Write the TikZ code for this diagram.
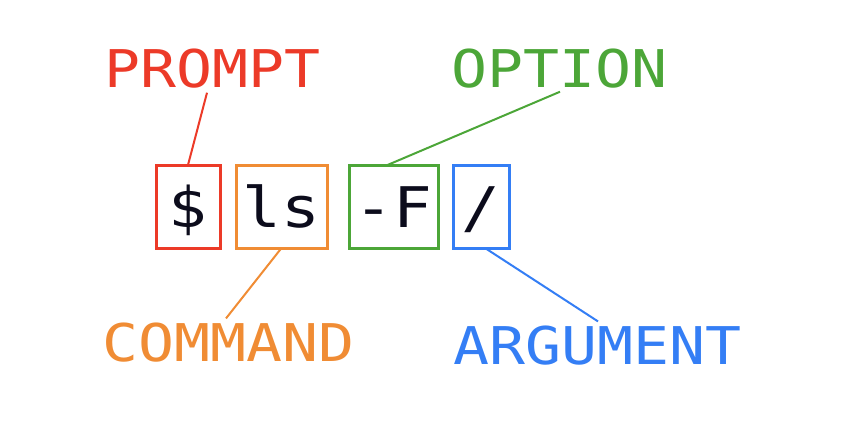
\documentclass[tikz,border=0pt]{standalone}
\usepackage{fontspec}
\usetikzlibrary{positioning}
\newfontfamily\termfont[FakeStretch=1.15]{DejaVu Sans Mono}
\definecolor{promptred}{RGB}{236,58,40}
\definecolor{cmdorange}{RGB}{240,140,52}
\definecolor{optgreen}{RGB}{76,166,56}
\definecolor{argblue}{RGB}{52,126,245}
\definecolor{termink}{RGB}{12,12,28}
\tikzset{
  x=1pt, y=-1pt,
  box/.style={
    draw, line width=3pt, minimum height=83pt, inner sep=0pt, outer sep=0pt,
    text height=42pt, text depth=0pt, text=termink,
    font=\termfont\fontsize{56}{56}\selectfont
  },
  tag/.style={
    anchor=base, inner sep=3pt,
    font=\termfont\fontsize{52}{52}\selectfont
  }
}

\begin{document}
\begin{tikzpicture}[line width=2pt]
    \useasboundingbox (0,0) rectangle (864,428);

    \node[box, promptred, minimum width=64pt] (dollar) at (188,206.5) {\textcolor{termink}{\$}};
    \node[box, cmdorange, minimum width=91pt, right = 16pt of dollar] (ls) {\textcolor{termink}{ls}};
    \node[box, optgreen, minimum width=89pt, right = 22pt of ls] (flag) {\textcolor{termink}{-F}};
    \node[box, argblue, minimum width=56pt, right = 15pt of flag] (slash) {\textcolor{termink}{/}};

    \node[tag, promptred] (prompt) at (213,88) {PROMPT};
    \node[tag, optgreen] (option) at (560,87) {OPTION};
    \node[tag, cmdorange] (command) at (229,361) {COMMAND};
    \node[tag, argblue] (argument) at (598,364) {ARGUMENT};

    \draw[promptred] (dollar.north) -- ([xshift=-6pt]prompt.south);
    \draw[optgreen] ([xshift=-6pt]flag.north) -- (option.south);
    \draw[cmdorange] (ls.south) -- ([xshift=-3pt]command.north);
    \draw[argblue] ([xshift=4pt]slash.south) -- (argument.north);
\end{tikzpicture}
\end{document}
